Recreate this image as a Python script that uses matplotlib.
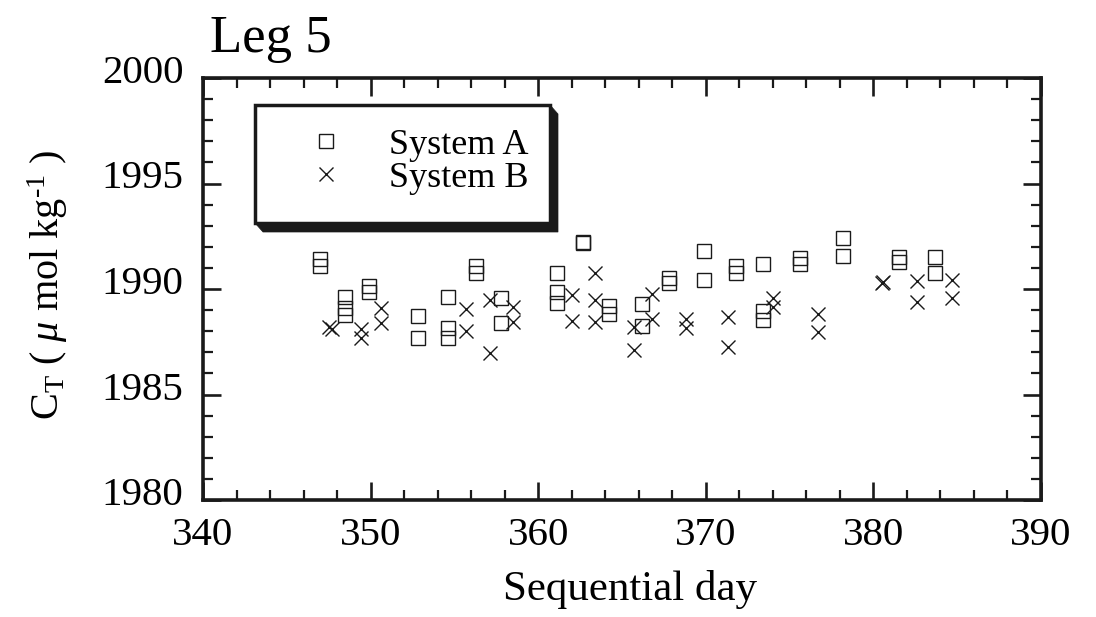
import matplotlib
matplotlib.use("Agg")
import matplotlib.pyplot as plt
from matplotlib.patches import Rectangle, Polygon
from matplotlib.transforms import ScaledTranslation

plt.rcParams['font.family'] = ['Liberation Serif', 'DejaVu Serif']
plt.rcParams['mathtext.fontset'] = 'custom'
plt.rcParams['mathtext.rm'] = 'Liberation Serif'
plt.rcParams['mathtext.it'] = 'Liberation Serif:italic'

# ---- data ----
day_a = [347.0, 347.0, 348.5, 348.5, 348.5, 349.9, 349.9, 352.8, 352.8,
         354.6, 354.6, 354.6, 356.3, 356.3, 357.8, 357.8, 361.1, 361.1, 361.1,
         362.7, 362.7, 364.2, 364.2, 366.2, 366.2, 367.8, 367.8, 369.9, 369.9,
         371.8, 371.8, 373.4, 373.4, 373.4, 375.6, 375.6, 378.2, 378.2,
         381.5, 381.5, 383.7, 383.7]
ct_a = [1991.4, 1991.1, 1989.6, 1989.1, 1988.75, 1990.15, 1989.85, 1988.7, 1987.7,
        1989.6, 1988.15, 1987.7, 1991.1, 1990.75, 1989.55, 1988.4, 1990.75, 1989.85, 1989.35,
        1992.2, 1992.25, 1989.2, 1988.8, 1989.3, 1988.25, 1990.5, 1990.3, 1991.8, 1990.45,
        1991.1, 1990.75, 1991.2, 1988.95, 1988.55, 1991.45, 1991.2, 1992.4, 1991.55,
        1991.5, 1991.3, 1991.5, 1990.75]

day_b = [347.5, 347.7, 349.4, 349.4, 350.6, 350.6, 355.7, 355.7, 357.1, 357.1,
         358.5, 358.5, 362.0, 362.0, 363.4, 363.4, 363.4, 365.7, 365.7, 366.8, 366.8,
         368.8, 368.8, 371.3, 371.3, 374.0, 374.0, 376.7, 376.7, 380.5, 380.6,
         382.6, 382.6, 384.7, 384.7]
ct_b = [1988.2, 1988.1, 1988.1, 1987.7, 1989.1, 1988.4, 1989.05, 1988.0, 1989.5, 1986.95,
        1989.15, 1988.45, 1989.7, 1988.5, 1990.75, 1989.5, 1988.45, 1988.2, 1987.1, 1989.75, 1988.6,
        1988.6, 1988.15, 1988.65, 1987.25, 1989.55, 1989.15, 1988.8, 1987.95, 1990.3, 1990.35,
        1990.4, 1989.4, 1990.45, 1989.55]

labels = ["System A", "System B"]
x_ticks = [340, 350, 360, 370, 380, 390]
y_ticks = [1980, 1985, 1990, 1995, 2000]

fig = plt.figure(figsize=(10.96, 6.17), dpi=100)
ax = fig.add_axes([203/1096, 1 - 500/617, 838/1096, 422/617])

ink = '#1a1a1a'
ha, = ax.plot(day_a, ct_a, linestyle='none', marker='s', ms=9.5, mfc='none',
              mec=ink, mew=1.0, label=labels[0])
hb, = ax.plot(day_b, ct_b, linestyle='none', marker='x', ms=10, mec=ink,
              mew=1.0, label=labels[1])

ax.set_xlim(340, 390)
ax.set_ylim(1980, 2000)
ax.set_xticks(x_ticks)
ax.set_yticks(y_ticks)
ax.set_xticks([v for v in range(340, 391, 2) if v % 10], minor=True)
ax.set_yticks([v for v in range(1980, 2001) if v % 5], minor=True)

for s in ax.spines.values():
    s.set_linewidth(2.6)
    s.set_color(ink)
ax.tick_params(which='both', direction='in', top=True, right=True, color=ink)
ax.tick_params(which='major', length=13, width=1.9, labelsize=29.5, pad=14)
ax.tick_params(which='minor', length=7, width=1.6)
ax.tick_params(axis='x', which='major', pad=12)

off = ScaledTranslation(0, 9/100, fig.dpi_scale_trans)
for lab in ax.get_yticklabels():
    lab.set_transform(lab.get_transform() + off)

ax.set_xlabel('Sequential day', fontsize=31)
ax.xaxis.set_label_coords(0.51, -0.167)
ax.set_ylabel('C$_\\mathrm{T}$ ( $\\mu$ mol kg$^{\\mathrm{\u20101}}$ )', fontsize=29)
ax.yaxis.set_label_coords(-0.159, 0.51)

fig.text(210/1096, 1 - 52/617, 'Leg 5', fontsize=38, ha='left', va='baseline')

# legend frame with 3D shadow
x0, x1 = (255-203)/838, (550-203)/838
y0, y1 = (500-223)/422, (500-105)/422
dx, dy = 8/838, 9/422
shadow = Polygon([(x0, y0), (x0+dx, y0-dy), (x1+dx, y0-dy), (x1+dx, y1-dy),
                  (x1, y1), (x1, y0)], closed=True, transform=ax.transAxes,
                 facecolor=ink, edgecolor=ink, lw=0.5, zorder=4)
ax.add_patch(shadow)
frame = Rectangle((x0, y0), x1-x0, y1-y0, transform=ax.transAxes,
                  facecolor='white', edgecolor=ink, lw=2.5, zorder=5)
ax.add_patch(frame)
leg = ax.legend(handles=[ha, hb], labels=labels, loc='center left',
                bbox_to_anchor=(0.125, 0.802), frameon=False, fontsize=26,
                handlelength=1.0, handletextpad=1.25, labelspacing=0.0,
                borderpad=0, borderaxespad=0)
leg.set_zorder(6)

fig.savefig('out.png', dpi=100)
